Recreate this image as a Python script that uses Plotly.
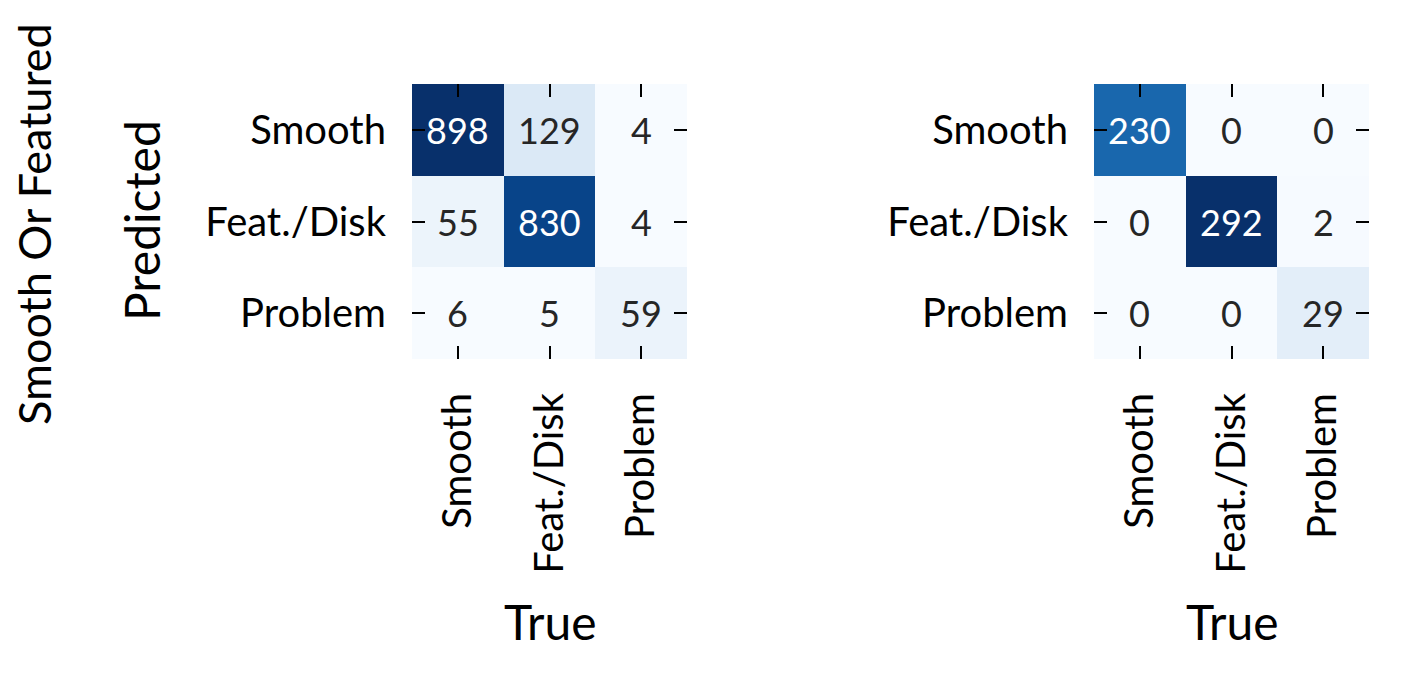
import plotly.graph_objects as go
import plotly.express as px

labels = ["Smooth", "Feat./Disk", "Problem"]

# rows = predicted, columns = true
cm_left = [[898, 129, 4],
           [55, 830, 4],
           [6, 5, 59]]
cm_right = [[230, 0, 0],
            [0, 292, 2],
            [0, 0, 29]]

row_title = "Smooth Or Featured"
x_title = "True"
y_title = "Predicted"

blues = px.colors.sequential.Blues
scale = [[i / (len(blues) - 1), c] for i, c in enumerate(blues)]

FONT = "Lato"
W, H = 1404, 684   # page body has an 8px margin

fig = go.Figure()

panels = [(cm_left, "x", "y"), (cm_right, "x2", "y2")]
for cm, xa, ya in panels:
    lo = min(min(r) for r in cm)
    hi = max(max(r) for r in cm)
    fig.add_trace(go.Heatmap(z=cm, x=labels, y=labels, colorscale=scale,
                             zmin=lo, zmax=hi, showscale=False,
                             xaxis=xa, yaxis=ya))
    for i, row in enumerate(cm):
        for j, v in enumerate(row):
            frac = (v - lo) / (hi - lo)
            fig.add_annotation(x=labels[j], y=labels[i], xref=xa, yref=ya,
                               text=str(v), showarrow=False,
                               font=dict(size=36, family=FONT,
                                         color="white" if frac > 0.5 else "#262626"))

axis_common = dict(ticks="inside", ticklen=13, tickwidth=2, tickcolor="black",
                   mirror="ticks", showline=False, showgrid=False, zeroline=False,
                   automargin=False,
                   tickfont=dict(size=40, family=FONT, color="black"),
                   ticklabelstandoff=25)

def px_x(v):
    return (v - 8) / W

def px_y(v):
    return 1 - (v - 8) / H

fig.update_layout(
    width=W, height=H,
    margin=dict(l=0, r=0, t=0, b=0),
    paper_bgcolor="white", plot_bgcolor="white",
    font=dict(family=FONT, color="black"),
    xaxis=dict(domain=[px_x(412), px_x(687)], anchor="y", tickangle=-90, **axis_common),
    yaxis=dict(domain=[px_y(359), px_y(84)], anchor="x", autorange="reversed", **axis_common),
    xaxis2=dict(domain=[px_x(1094), px_x(1369)], anchor="y2", tickangle=-90, **axis_common),
    yaxis2=dict(domain=[px_y(359), px_y(84)], anchor="x2", autorange="reversed", **axis_common),
)

title_font = dict(size=48, family=FONT, color="black")
common = dict(xref="paper", yref="paper", showarrow=False,
              xanchor="center", yanchor="middle")
fig.add_annotation(x=px_x(550), y=px_y(621), text=x_title, font=title_font, **common)
fig.add_annotation(x=px_x(1232), y=px_y(621), text=x_title, font=title_font, **common)
fig.add_annotation(x=px_x(142), y=px_y(221), text=y_title, textangle=-90,
                   font=title_font, **common)
fig.add_annotation(x=px_x(34), y=px_y(224), text=row_title, textangle=-90,
                   font=dict(size=45, family=FONT, color="black"), **common)

fig.write_html("out.html")
